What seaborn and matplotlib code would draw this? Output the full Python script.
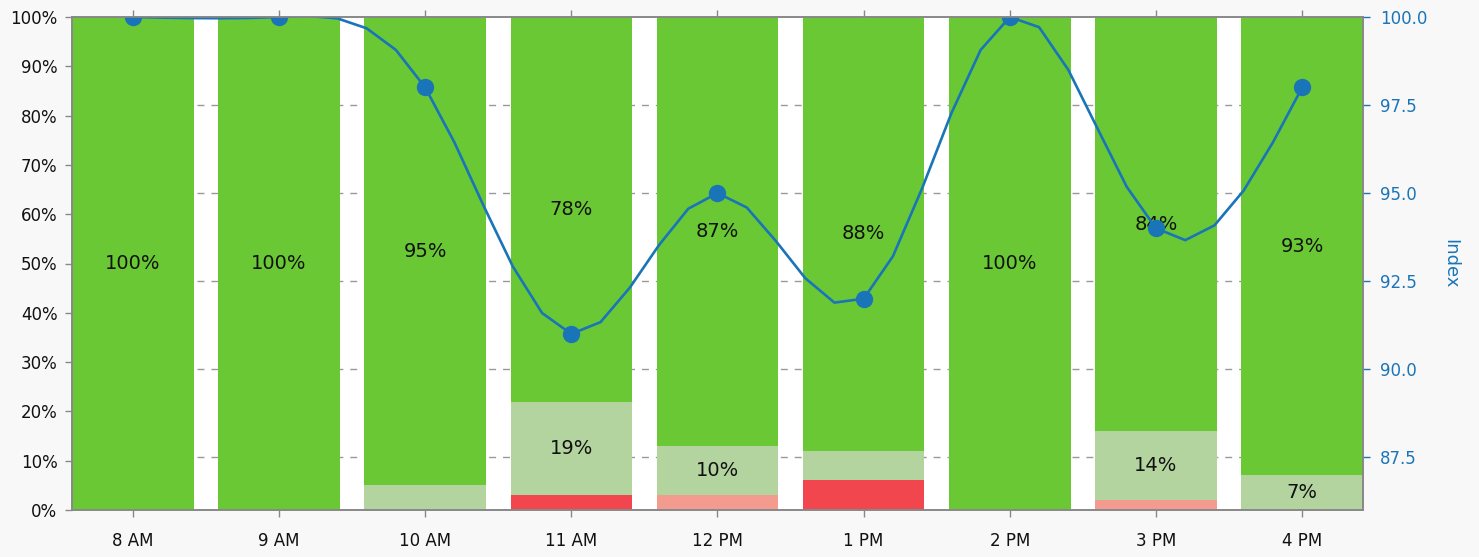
import numpy as np
import pandas as pd
import matplotlib
matplotlib.use("Agg")
import matplotlib.pyplot as plt
import seaborn as sns

# Hourly breakdown (percent of each hour) and the index line
hours = ["8 AM", "9 AM", "10 AM", "11 AM", "12 PM", "1 PM", "2 PM", "3 PM", "4 PM"]
red = [0, 0, 0, 3, 0, 6, 0, 0, 0]
pink = [0, 0, 0, 0, 3, 0, 0, 2, 0]
light_green = [0, 0, 5, 19, 10, 6, 0, 14, 7]
green = [100, 100, 95, 78, 87, 88, 100, 84, 93]
index_values = [100, 100, 98, 91, 95, 92, 100, 94, 98]

left_ticks = list(range(0, 101, 10))
index_ticks = [87.5, 90.0, 92.5, 95.0, 97.5, 100.0]
index_limits = (86.0, 100.0)

colors = {
    "red": "#f2464f",
    "pink": "#f29b8e",
    "light_green": "#b3d49f",
    "green": "#6ac834",
}
line_color = "#1a75b8"
spine_color = "#888888"

sns.set_style("white")
plt.rcParams["font.family"] = ["DejaVu Sans"]

df = pd.DataFrame({
    "hour": hours,
    "red": red,
    "pink": pink,
    "light_green": light_green,
    "green": green,
})
layers = ["red", "pink", "light_green", "green"]
cum = df[layers].cumsum(axis=1)

fig = plt.figure(figsize=(14.79, 5.57), dpi=100, facecolor="#f8f8f8")
ax = fig.add_axes([72 / 1479, 47 / 557, 1291 / 1479, 493 / 557])
ax.set_facecolor("white")

bar_width = 0.832
# Draw cumulative heights from the top layer down so each layer covers the next
for layer in reversed(layers):
    sns.barplot(data=df, x="hour", y=cum[layer], order=hours, color=colors[layer],
                saturation=1, width=bar_width, linewidth=0, ax=ax, zorder=2)

# Segment labels
for i in range(len(hours)):
    base = 0
    for layer in layers:
        v = df.loc[i, layer]
        if v >= 7:
            ax.text(i, base + v / 2, f"{v}%", ha="center", va="center",
                    fontsize=14, color="#111111", zorder=3)
        base += v

ax.set_xlim(-bar_width / 2, len(hours) - 1 + bar_width / 2)
ax.set_ylim(0, 100)
ax.set_yticks(left_ticks)
ax.set_yticklabels([f"{t}%" for t in left_ticks])
ax.set_xlabel("")
ax.set_ylabel("")

# Dashed guides at the index ticks, kept behind the bars
lo, hi = index_limits
guide_pos = [(t - lo) / (hi - lo) * 100 for t in index_ticks if t < hi]
ax.set_yticks(guide_pos, minor=True)
ax.yaxis.grid(True, which="minor", linestyle=(0, (5, 5)), color="#999999", linewidth=1)
ax.yaxis.grid(False, which="major")
ax.xaxis.grid(False)
ax.set_axisbelow(True)

ax.tick_params(axis="y", which="minor", length=0)
ax.tick_params(axis="y", which="major", direction="out", length=5, width=1,
               color=spine_color, labelsize=12, labelcolor="#111111", left=True, pad=5.5)
ax.tick_params(axis="x", direction="out", length=5, width=1, color=spine_color,
               labelsize=12, labelcolor="#111111", bottom=True, top=True, pad=10.5)
for s in ax.spines.values():
    s.set_color(spine_color)
    s.set_linewidth(1.2)
    s.set_visible(True)

# Index line on the secondary axis
ax2 = ax.twinx()
ax2.set_ylim(*index_limits)
ax2.set_yticks(index_ticks)
ax2.set_yticklabels([f"{t:.1f}" for t in index_ticks])


def natural_spline(values, steps=5):
    y = np.asarray(values, dtype=float)
    n = len(y)
    A = np.zeros((n, n))
    r = np.zeros(n)
    A[0, 0] = A[-1, -1] = 1.0
    for i in range(1, n - 1):
        A[i, i - 1:i + 2] = [1.0, 4.0, 1.0]
        r[i] = 6.0 * (y[i + 1] - 2.0 * y[i] + y[i - 1])
    M = np.linalg.solve(A, r)
    t = np.linspace(0, 1, steps + 1)[:-1]
    xs, ys = [], []
    for i in range(n - 1):
        b = (y[i + 1] - y[i]) - (2.0 * M[i] + M[i + 1]) / 6.0
        ys.extend(y[i] + b * t + M[i] / 2.0 * t ** 2 + (M[i + 1] - M[i]) / 6.0 * t ** 3)
        xs.extend(i + t)
    xs.append(n - 1)
    ys.append(y[-1])
    return np.array(xs), np.array(ys)


sx, sy = natural_spline(index_values)
sns.lineplot(x=sx, y=sy, sort=False, color=line_color, linewidth=1.9, ax=ax2)
ax2.plot(range(len(hours)), index_values, "o", color=line_color, markersize=12.5,
         markeredgewidth=0)
ax2.set_xlim(ax.get_xlim())

ax2.set_ylabel("Index", color=line_color, fontsize=13, rotation=270, labelpad=10,
               va="bottom")
ax2.tick_params(axis="y", direction="out", length=5, width=1, color=line_color,
                labelcolor=line_color, labelsize=12, right=True, pad=7)
for s in ax2.spines.values():
    s.set_color(spine_color)
    s.set_linewidth(1.2)

fig.savefig("out.png", dpi=100, facecolor=fig.get_facecolor())
